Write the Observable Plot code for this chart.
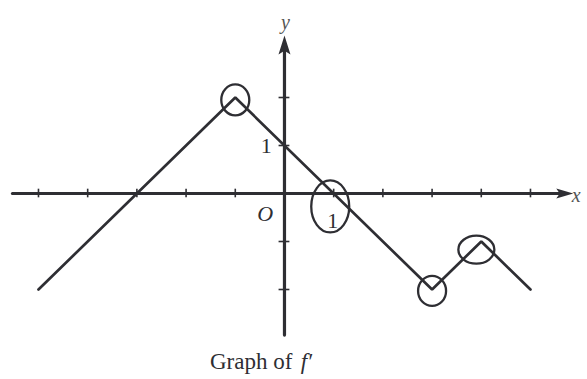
<!DOCTYPE html>
<html>
<head>
<meta charset="utf-8">
<script src="https://cdn.jsdelivr.net/npm/d3@7"></script>
<script src="https://cdn.jsdelivr.net/npm/@observablehq/plot@0.6"></script>
<style>
  html, body { margin: 0; padding: 0; background: #fff; }
</style>
</head>
<body>
<div id="chart"></div>
<script>
// Graph of f' : vertices of the piecewise-linear graph
const graphX = [-5, -1, 3, 4, 5];
const graphY = [-2, 2, -2, -1, -2];

// tick positions on the axes
const xTicks = [-5, -4, -3, -2, -1, 1, 2, 3, 4, 5];
const yTicks = [-2, -1, 1, 2];

// hand-drawn circles (annotation centres, in graph units)
const markX = [-1, 3, 3.9];
const markY = [1.95, -2.03, -1.17];
const ovalX = [0.93];
const ovalY = [-0.27];

// axis extents
const axisXRange = [-5.53, 5.6];
const axisYRange = [-2.95, 3.0];

const ink = "#2e2e33";

function ellipseSymbol(a, b) {
  const k = 0.5523;
  return {
    draw(ctx) {
      ctx.moveTo(a, 0);
      ctx.bezierCurveTo(a, k * b, k * a, b, 0, b);
      ctx.bezierCurveTo(-k * a, b, -a, k * b, -a, 0);
      ctx.bezierCurveTo(-a, -k * b, -k * a, -b, 0, -b);
      ctx.bezierCurveTo(k * a, -b, a, -k * b, a, 0);
      ctx.closePath();
    }
  };
}
function arrowHeadSymbol(len, half) {
  return {
    draw(ctx) {
      ctx.moveTo(0, 0);
      ctx.lineTo(-half, len);
      ctx.lineTo(0, len * 0.8);
      ctx.lineTo(half, len);
      ctx.closePath();
    }
  };
}

const graph = graphX.map((x, i) => ({x, y: graphY[i]}));
const marks = markX.map((x, i) => ({x, y: markY[i]}));
const ovals = ovalX.map((x, i) => ({x, y: ovalY[i]}));

const chart = Plot.plot({
  width: 587,
  height: 379,
  margin: 0,
  x: {domain: [-5.772, 6.159], axis: null},
  y: {domain: [-3.875, 4.021], axis: null},
  style: {background: "#fff"},
  marks: [
    // axes
    Plot.line([{x: axisXRange[0], y: 0}, {x: axisXRange[1], y: 0}], {x: "x", y: "y", stroke: ink, strokeWidth: 3}),
    Plot.line([{x: 0, y: axisYRange[0]}, {x: 0, y: axisYRange[1]}], {x: "x", y: "y", stroke: ink, strokeWidth: 3.2}),
    Plot.dot([{x: 5.87, y: 0}], {x: "x", y: "y", symbol: arrowHeadSymbol(17, 5), fill: ink, stroke: "none", rotate: 90}),
    Plot.dot([{x: 0, y: 3.29}], {x: "x", y: "y", symbol: arrowHeadSymbol(19, 6), fill: ink, stroke: "none"}),
    // ticks
    Plot.ruleX(xTicks, {x: d => d, y1: -0.09, y2: 0.09, stroke: ink, strokeWidth: 1.6}),
    Plot.ruleY(yTicks, {y: d => d, x1: -0.11, x2: 0.11, stroke: ink, strokeWidth: 1.6}),
    // graph of f'
    Plot.line(graph, {x: "x", y: "y", stroke: ink, strokeWidth: 2.7, strokeLinejoin: "miter"}),
    // hand-drawn circles
    Plot.dot(marks.slice(0, 1), {x: "x", y: "y", symbol: ellipseSymbol(14, 15.5), fill: "none", stroke: ink, strokeWidth: 2.3}),
    Plot.dot(marks.slice(1, 2), {x: "x", y: "y", symbol: ellipseSymbol(14, 15), fill: "none", stroke: ink, strokeWidth: 2.3}),
    Plot.dot(marks.slice(2, 3), {x: "x", y: "y", symbol: ellipseSymbol(18, 14), fill: "none", stroke: ink, strokeWidth: 2.3}),
    Plot.dot(ovals, {x: "x", y: "y", symbol: ellipseSymbol(19, 26), fill: "none", stroke: ink, strokeWidth: 2.3}),
    // labels
    Plot.text(["1"], {x: 0.98, y: -0.58, text: d => d, fontSize: 22, fontFamily: "Liberation Serif", fill: ink}),
    Plot.text(["1"], {x: -0.37, y: 1.0, text: d => d, fontSize: 22, fontFamily: "Liberation Serif", fill: ink}),
    Plot.text(["O"], {x: -0.39, y: -0.42, text: d => d, fontSize: 22, fontFamily: "Liberation Serif", fontStyle: "italic", fill: ink}),
    Plot.text(["y"], {x: 0.02, y: 3.56, text: d => d, fontSize: 20, fontFamily: "Liberation Serif", fontStyle: "italic", fill: "#555"}),
    Plot.text(["x"], {x: 5.93, y: -0.04, text: d => d, fontSize: 20, fontFamily: "Liberation Serif", fontStyle: "italic", fill: "#555"}),
    // caption
    Plot.text(["Graph of"], {x: 0.16, y: -3.5, text: d => d, textAnchor: "end", fontSize: 23, fontFamily: "Liberation Serif", fill: ink}),
    Plot.text(["f\u2032"], {x: 0.33, y: -3.5, text: d => d, textAnchor: "start", fontSize: 23, fontFamily: "Liberation Serif", fontStyle: "italic", fill: ink})
  ]
});
document.getElementById("chart").appendChild(chart);
</script>
</body>
</html>
